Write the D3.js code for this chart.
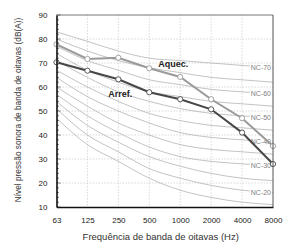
<!DOCTYPE html>
<html>
<head>
<meta charset="utf-8">
<script src="https://cdn.jsdelivr.net/npm/d3@7"></script>
<style>
  body { margin: 0; background: #fff; }
  svg { display: block; font-family: "Liberation Sans", Arial, sans-serif; }
</style>
</head>
<body>
<div id="chart"></div>
<script>
// data
var freqs = ["63", "125", "250", "500", "1000", "2000", "4000", "8000"];
var aquec = [77.8, 71.7, 72.2, 67.8, 64.2, 54.9, 47, 35.4];
var arref = [70.3, 66.8, 63.2, 57.8, 54.9, 50.7, 41, 27.9];
var yTicks = [10, 20, 30, 40, 50, 60, 70, 80, 90];

// NC curves (NC-15 .. NC-70)
var ncNames = ["NC-15", "NC-20", "NC-25", "NC-30", "NC-35", "NC-40", "NC-45", "NC-50", "NC-55", "NC-60", "NC-65", "NC-70"];
var ncValues = [
  [47, 36, 29, 22, 17, 14, 12, 11],
  [51, 40, 33, 26, 22, 19, 17, 16],
  [54, 44, 37, 31, 27, 24, 22, 21],
  [57, 48, 41, 35, 31, 29, 28, 27],
  [60, 52, 45, 40, 36, 34, 33, 32],
  [64, 56, 50, 45, 41, 39, 38, 37],
  [67, 60, 54, 49, 46, 44, 43, 42],
  [71, 64, 58, 54, 51, 49, 48, 47],
  [74, 67, 62, 58, 56, 54, 53, 52],
  [77, 71, 67, 63, 61, 59, 58, 57],
  [80, 75, 71, 68, 66, 64, 63, 62],
  [83, 79, 75, 72, 71, 70, 69, 68]
];
var ncLabelled = ["NC-20", "NC-30", "NC-40", "NC-50", "NC-60", "NC-70"];

var svgWidth = 284, svgHeight = 243;
var margin = {top: 15, right: 11, bottom: 36, left: 56.5};
var width = svgWidth - margin.left - margin.right;
var height = svgHeight - margin.top - margin.bottom;

var svg = d3.select("#chart").append("svg")
  .attr("width", svgWidth)
  .attr("height", svgHeight);

var chart = svg.append("g")
  .attr("transform", "translate(" + margin.left + "," + margin.top + ")");

var x = d3.scalePoint().domain(freqs).range([0, width]);
var y = d3.scaleLinear().domain([10, 90]).range([height, 0]);

chart.append("clipPath").attr("id", "clip")
  .append("rect").attr("width", width).attr("height", height);

// grid
chart.append("g").selectAll("line").data(freqs.slice(1, -1)).enter().append("line")
  .attr("x1", d => x(d)).attr("x2", d => x(d))
  .attr("y1", 0).attr("y2", height)
  .attr("stroke", "#c8c8c8").attr("stroke-width", 0.7).attr("stroke-dasharray", "1.5,1.5");
chart.append("g").selectAll("line").data(yTicks.slice(1, -1)).enter().append("line")
  .attr("x1", 0).attr("x2", width)
  .attr("y1", d => y(d)).attr("y2", d => y(d))
  .attr("stroke", "#c8c8c8").attr("stroke-width", 0.7).attr("stroke-dasharray", "1.5,1.5");

// NC curves
var ncLine = d3.line()
  .x((d, i) => x(freqs[i]))
  .y(d => y(d))
  .curve(d3.curveMonotoneX);

chart.append("g").attr("clip-path", "url(#clip)")
  .selectAll("path").data(ncValues).enter().append("path")
  .attr("d", ncLine)
  .attr("fill", "none")
  .attr("stroke", "#b4b4b4")
  .attr("stroke-width", 0.8);

// NC labels
var labG = chart.append("g");
ncNames.forEach(function(name, i) {
  if (ncLabelled.indexOf(name) < 0) return;
  var v = ncValues[i][7];
  var g = labG.append("g");
  var t = g.append("text")
    .attr("x", width - 2)
    .attr("y", y(v) - 0.5)
    .attr("dy", "0.35em")
    .attr("text-anchor", "end")
    .attr("font-size", 7)
    .attr("fill", "#808080")
    .text(name);
  var bb = t.node().getBBox();
  g.insert("rect", "text")
    .attr("x", bb.x - 1).attr("y", bb.y + 1)
    .attr("width", bb.width + 2).attr("height", bb.height - 2)
    .attr("fill", "#fff");
});

// data series
var dataLine = d3.line()
  .x((d, i) => x(freqs[i]))
  .y(d => y(d));

function series(vals, color) {
  chart.append("path")
    .datum(vals)
    .attr("d", dataLine)
    .attr("fill", "none")
    .attr("stroke", color)
    .attr("stroke-width", 2);
  chart.append("g").selectAll("circle").data(vals).enter().append("circle")
    .attr("cx", (d, i) => x(freqs[i]))
    .attr("cy", d => y(d))
    .attr("r", 2.6)
    .attr("fill", "#fff")
    .attr("stroke", color)
    .attr("stroke-width", 0.9);
}
series(aquec, "#9a9a9a");
series(arref, "#474747");

chart.append("text")
  .attr("x", x("500") + 9).attr("y", y(aquec[3]) - 1)
  .attr("font-size", 9).attr("font-weight", "bold").attr("fill", "#222")
  .text("Aquec.");
chart.append("text")
  .attr("x", x("250") - 10).attr("y", y(arref[2]) + 18)
  .attr("font-size", 9).attr("font-weight", "bold").attr("fill", "#222")
  .text("Arref.");

// frame
chart.append("line").attr("x1", 0).attr("x2", width).attr("y1", 0).attr("y2", 0)
  .attr("stroke", "#777").attr("stroke-width", 1);
chart.append("line").attr("x1", width).attr("x2", width).attr("y1", 0).attr("y2", height)
  .attr("stroke", "#555").attr("stroke-width", 1);

// axes
var xAxis = chart.append("g")
  .attr("transform", "translate(0," + height + ")")
  .call(d3.axisBottom(x).tickSize(0).tickPadding(10));
xAxis.select(".domain").attr("stroke", "#111").attr("stroke-width", 1.6);
xAxis.selectAll("text").attr("font-size", 8).attr("fill", "#222")
  .attr("font-family", "Liberation Sans, Arial, sans-serif");

var minor = d3.range(10, 91, 2);
chart.append("g").selectAll("line").data(minor).enter().append("line")
  .attr("x1", 0).attr("x2", d => d % 10 === 0 ? 4 : 2.5)
  .attr("y1", d => y(d)).attr("y2", d => y(d))
  .attr("stroke", "#333").attr("stroke-width", 0.6);

var yAxis = chart.append("g")
  .call(d3.axisLeft(y).tickValues(yTicks).tickSize(0).tickPadding(9));
yAxis.select(".domain").attr("stroke", "#111").attr("stroke-width", 1.6);
yAxis.selectAll("text").attr("font-size", 8).attr("fill", "#222")
  .attr("font-family", "Liberation Sans, Arial, sans-serif");

// axis titles
svg.append("text")
  .attr("x", margin.left + width / 2 - 4)
  .attr("y", 240)
  .attr("text-anchor", "middle")
  .attr("font-size", 9.5)
  .attr("fill", "#333")
  .text("Frequência de banda de oitavas (Hz)");

svg.append("text")
  .attr("transform", "translate(21," + (margin.top + height / 2 - 1) + ") rotate(-90)")
  .attr("text-anchor", "middle")
  .attr("font-size", 8.3)
  .attr("fill", "#333")
  .text("Nível pressão sonora de banda de oitavas (dB(A))");
</script>
</body>
</html>
